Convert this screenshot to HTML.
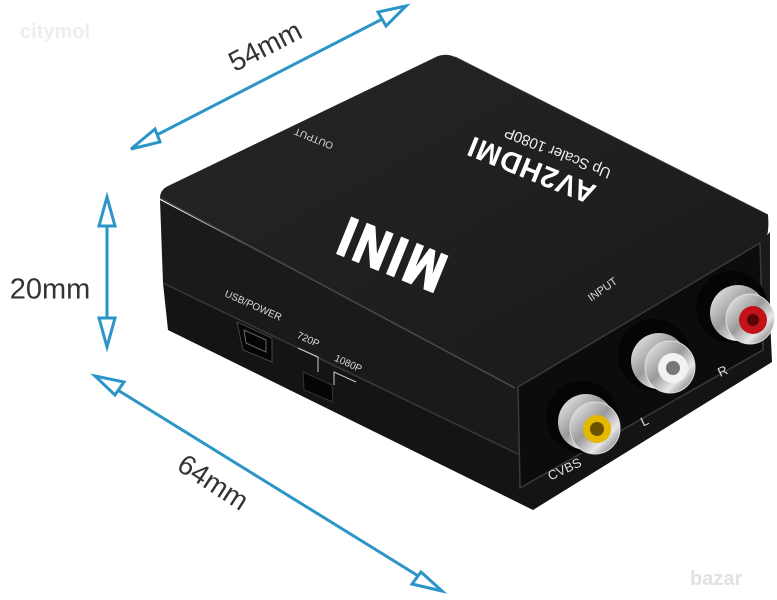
<!DOCTYPE html>
<html><head><meta charset="utf-8"><style>
html,body{margin:0;padding:0;background:#fff;}
svg{display:block;}
text{font-family:"Liberation Sans",sans-serif;}
</style></head><body>
<svg width="777" height="600" viewBox="0 0 777 600" xmlns="http://www.w3.org/2000/svg">
<defs>
<linearGradient id="silv" x1="0" y1="0" x2="1" y2="1">
<stop offset="0" stop-color="#f4f4f4"/><stop offset="0.45" stop-color="#9a9a9a"/><stop offset="0.7" stop-color="#e8e8e8"/><stop offset="1" stop-color="#555"/>
</linearGradient>
<linearGradient id="topg" x1="0" y1="0" x2="1" y2="1">
<stop offset="0" stop-color="#262626"/><stop offset="1" stop-color="#191919"/>
</linearGradient>
</defs>
<rect width="777" height="600" fill="#fff"/>
<text x="20" y="38" font-size="20" font-weight="bold" fill="#eeeeee">citymol</text>
<text x="690" y="585" font-size="20" font-weight="bold" fill="#e2e2e2">bazar</text>

<path d="M163,283 L520,455 L770,318 L772,362 L533,510 L168,330 Z" fill="#141414"/>
<path d="M160,200 L518,387 L760,243 L770,232 L770,318 L520,455 L163,283 Z" fill="#1a1a1a"/>
<path d="M163,283 L520,455" stroke="#3a3a3a" stroke-width="1.5"/>
<path d="M168,186 Q160,190 160,198 L515,388 Q520,390 526,386 L762,244 Q770,238 768,215 L455,57 Q447,53 438,56 Z" fill="url(#topg)"/>
<path d="M160,198 L515,388" stroke="#4a4a4a" stroke-width="1.5"/>
<path d="M768,215 L455,57" stroke="#333" stroke-width="1"/>

<path d="M518,387 L760,243 L763,350 L520,488 Z" fill="#0c0c0c" stroke="#3a3a3a" stroke-width="1.5"/>

<text transform="translate(532,168) rotate(202)" text-anchor="middle" dominant-baseline="middle" font-size="29" font-weight="bold" fill="#fff" letter-spacing="1">AV2HDMI</text>
<text transform="translate(558,152) rotate(202)" text-anchor="middle" dominant-baseline="middle" font-size="15" fill="#eee">Up Scaler 1080P</text>
<text transform="translate(392,250) rotate(202) scale(1,1.2)" text-anchor="middle" dominant-baseline="middle" font-size="46" font-weight="bold" fill="#fff" stroke="#fff" stroke-width="2" letter-spacing="4">MINI</text>
<text transform="translate(314,138) rotate(202)" text-anchor="middle" dominant-baseline="middle" font-size="10" fill="#ddd">OUTPUT</text>
<text transform="translate(603,290) rotate(-35)" text-anchor="middle" dominant-baseline="middle" font-size="11" fill="#ddd">INPUT</text>

<text transform="translate(253,306) rotate(24)" text-anchor="middle" dominant-baseline="middle" font-size="10" fill="#ddd">USB/POWER</text>
<text transform="translate(308,340) rotate(24)" text-anchor="middle" dominant-baseline="middle" font-size="10" fill="#ddd">720P</text>
<text transform="translate(348,364) rotate(24)" text-anchor="middle" dominant-baseline="middle" font-size="10" fill="#ddd">1080P</text>
<path d="M298,348 L318,357 L318,372" stroke="#ccc" fill="none" stroke-width="1"/>
<path d="M334,385 L334,372 L356,382" stroke="#ccc" fill="none" stroke-width="1"/>
<path d="M237,322 L272,338 L272,362 L243,350 Z" fill="#050505" stroke="#444" stroke-width="1"/>
<path d="M244,330 L266,340 L266,352 L246,343 Z" fill="none" stroke="#666" stroke-width="1"/>
<path d="M303,372 L332,385 L333,402 L304,390 Z" fill="#050505" stroke="#333"/>

<g>
<circle cx="582" cy="417" r="36" fill="#050505"/>
<circle cx="586" cy="422" r="28" fill="url(#silv)"/>
<ellipse cx="595" cy="428" rx="25" ry="26" fill="url(#silv)" stroke="#ddd"/>
<circle cx="597" cy="429" r="14" fill="#e5b800"/>
<circle cx="597" cy="429" r="7" fill="#6b5200"/>
</g>
<g>
<circle cx="654" cy="355" r="36" fill="#050505"/>
<circle cx="659" cy="361" r="28" fill="url(#silv)"/>
<ellipse cx="670" cy="367" rx="25" ry="26" fill="url(#silv)" stroke="#ddd"/>
<circle cx="673" cy="368" r="15" fill="#f2f2f2"/>
<circle cx="673" cy="368" r="7" fill="#777"/>
</g>
<g>
<circle cx="732" cy="307" r="36" fill="#050505"/>
<circle cx="738" cy="313" r="28" fill="url(#silv)"/>
<ellipse cx="750" cy="319" rx="24" ry="25" fill="url(#silv)" stroke="#ddd"/>
<circle cx="753" cy="320" r="14" fill="#c4121a"/>
<circle cx="753" cy="320" r="6" fill="#5a0508"/>
</g>
<text transform="translate(565,470) rotate(-25)" text-anchor="middle" dominant-baseline="middle" font-size="13" fill="#ddd">CVBS</text>
<text transform="translate(645,422) rotate(-25)" text-anchor="middle" dominant-baseline="middle" font-size="13" fill="#ddd">L</text>
<text transform="translate(723,372) rotate(-25)" text-anchor="middle" dominant-baseline="middle" font-size="13" fill="#ddd">R</text>

<g stroke="#2b95c8" stroke-width="3" fill="#fff">
<line x1="145" y1="141" x2="392" y2="14"/>
<path d="M131,149 L155,129 L160,142 Z"/>
<path d="M406,6 L378,12 L386,26 Z"/>
<line x1="107" y1="212" x2="107" y2="332"/>
<path d="M107,197 L99,226 L115,226 Z"/>
<path d="M107,347 L99,318 L115,318 Z"/>
<line x1="108" y1="384" x2="428" y2="582"/>
<path d="M95,376 L124,382 L115,395 Z"/>
<path d="M442,591 L412,584 L421,572 Z"/>
</g>
<text transform="translate(266,48) rotate(-27)" text-anchor="middle" dominant-baseline="middle" font-size="28" fill="#333">54mm</text>
<text x="50" y="291" text-anchor="middle" dominant-baseline="middle" font-size="29" fill="#333">20mm</text>
<text transform="translate(212,484) rotate(33)" text-anchor="middle" dominant-baseline="middle" font-size="28" fill="#333">64mm</text>
</svg>
</body></html>
